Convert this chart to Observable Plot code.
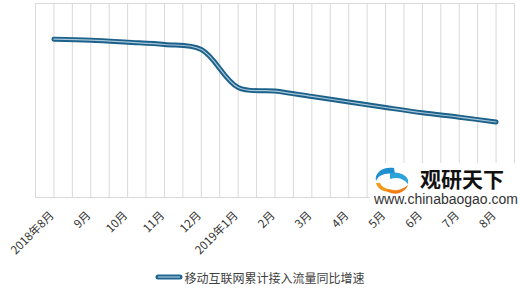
<!DOCTYPE html>
<html><head><meta charset="utf-8">
<script src="https://cdn.jsdelivr.net/npm/d3@7"></script>
<script src="https://cdn.jsdelivr.net/npm/@observablehq/plot@0.6"></script>
<style>
body{margin:0;background:#fff;font-family:"Noto Sans CJK SC","Noto Sans",sans-serif;}
#wrap{position:relative;width:520px;height:288px;overflow:hidden;}
#legend{position:absolute;left:0;top:266px;width:520px;height:22px;display:flex;align-items:center;justify-content:center;font-size:12px;color:#404040;}
#wm{position:absolute;left:370px;top:163px;width:146px;height:40px;background:#fff;}
</style></head>
<body><div id="wrap"><div id="chart"></div>
<div id="wm">
<svg width="146" height="46" style="position:absolute;left:0;top:0;overflow:visible">
<path d="M24,5 C13,3 4,10 6,18 C8,12 16,9 25,11 Z" fill="#1f8fcf"/>
<path d="M20,10 C31,8 40,14 38,21 C33,15 27,14 20,16 Z" fill="#2aa3d8"/>
<path d="M6,20 C8,28 18,31 27,27 C19,27 12,25 10,20 Z" fill="#f39a1e"/>
<path d="M14,26 C22,34 35,31 38,22 C31,28 22,29 14,26 Z" fill="#f07d14"/>
<text x="50" y="24" font-size="21" font-weight="bold" fill="#111" font-family="Noto Sans CJK SC">观研天下</text>
<text x="4" y="41" font-size="14" fill="#333" font-family="Liberation Sans, Arial">www.chinabaogao.com</text>
</svg></div>
<div id="legend"><svg width="28" height="8" style="margin-right:1px"><line x1="3" y1="4" x2="25" y2="4" stroke="#1f6690" stroke-width="5" stroke-linecap="round"/><line x1="3" y1="4" x2="25" y2="4" stroke="#a9c6da" stroke-width="1.2"/></svg><span>移动互联网累计接入流量同比增速</span></div>
</div>
<script>
const months = ["2018年8月","9月","10月","11月","12月","2019年1月","2月","3月","4月","5月","6月","7月","8月"];
const growth = [204.0, 202.7, 200.1, 197.2, 190.7, 141.8, 137.2, 130.2, 123.1, 116.0, 109.2, 103.5, 97.3];
const seriesName = "移动互联网累计接入流量同比增速";

const data = months.map((m, i) => ({i, m, v: growth[i]}));
const grid = d3.range(-0.5, months.length - 0.49, 0.5);

const chart = Plot.plot({
  width: 520, height: 258,
  marginLeft: 35, marginRight: 6, marginTop: 3, marginBottom: 61,
  x: {type: "linear", domain: [-0.5, months.length - 0.5]},
  y: {domain: [0, 250], axis: null},
  style: {fontFamily: "Noto Sans CJK SC", fontSize: "11px", color: "#404040", background: "#fff"},
  marks: [
    Plot.ruleX(grid, {stroke: "#d9d9d9", strokeWidth: 1}),
    Plot.frame({stroke: "#d9d9d9"}),
    Plot.axisX(data.map(d => d.i), {tickFormat: i => months[i], tickRotate: -45, tickSize: 0, tickPadding: 16, dx: -2, fontSize: 11.5, fill: "#333", label: null}),
    Plot.line(data, {x: "i", y: "v", stroke: "#1b6189", strokeWidth: 5, curve: "catmull-rom", strokeLinecap: "round"}),
    Plot.line(data, {x: "i", y: "v", stroke: "#a9c6da", strokeWidth: 1.2, curve: "catmull-rom"})
  ]
});
document.getElementById("chart").appendChild(chart);
</script>
</body></html>
